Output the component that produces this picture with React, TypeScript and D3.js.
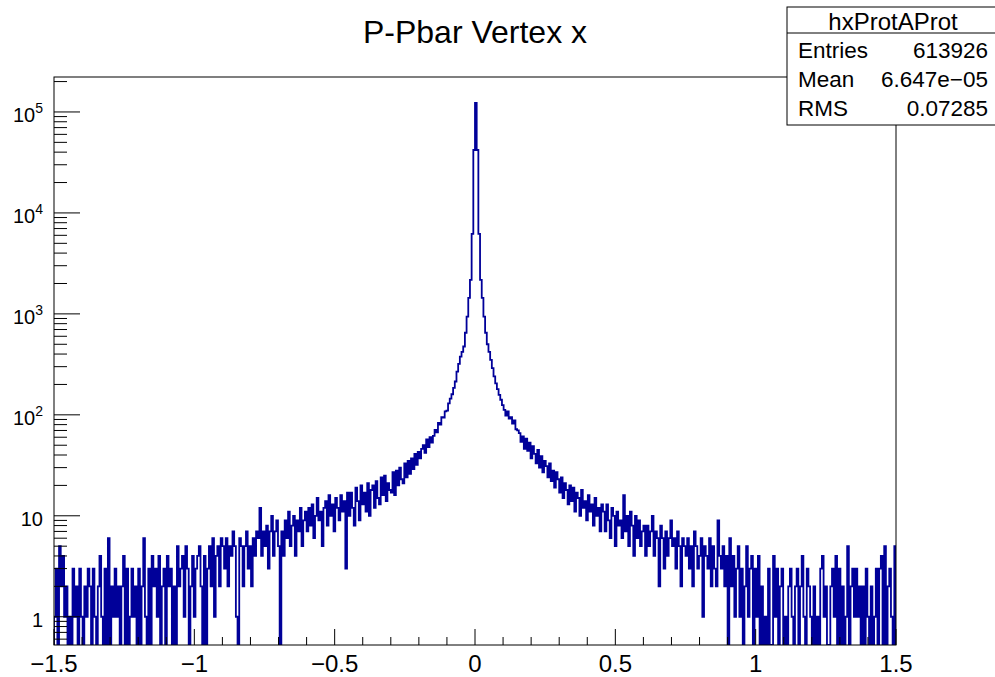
import React from "react";
import * as d3 from "d3";

const X_MIN = -1.5;
const X_MAX = 1.5;
const N_BINS = 500;

// bin contents, bins 0..249
const leftTail = [
  1, 3, 0, 5, 2, 4, 1, 2, 0, 1, 0, 3, 1, 2, 0, 3, 1, 0, 2, 1, 3, 2, 0, 3, 1,
  0, 2, 4, 1, 0, 3, 0, 6, 0, 2, 1, 3, 1, 2, 0, 2, 4, 0, 3, 0, 1, 3, 1, 2, 0,
  3, 0, 2, 6, 1, 0, 3, 0, 4, 2, 3, 1, 4, 0, 2, 3, 0, 4, 2, 3, 0, 2, 0, 5, 2,
  3, 4, 1, 5, 3, 0, 2, 4, 1, 3, 4, 5, 2, 0, 4, 0, 3, 5, 2, 6, 1, 4, 5, 2, 6,
  5, 3, 6, 2, 5, 4, 7, 5, 1, 0, 6, 5, 2, 5, 7, 3, 5, 2, 6, 4, 7, 6, 12, 4, 7,
  5, 8, 3, 7, 10, 4, 7, 9, 5, 0, 7, 4, 9, 6, 11, 5, 8, 10, 4, 9, 7, 12, 5, 9, 11,
  7, 12, 8, 13, 6, 10, 15, 9, 11, 5, 12, 14, 8, 16, 10, 13, 7, 15, 12, 9, 16, 11, 14, 3, 17,
  10, 17, 12, 8, 19, 14, 9, 20, 13, 17, 11, 21, 10, 18, 20, 12, 22, 15, 13, 24, 16, 25, 14, 21, 18,
  17, 27, 16, 28, 20, 30, 23, 21, 33, 24, 35, 26, 37, 29, 41, 32, 43, 37, 46, 50, 42, 57, 48, 60, 53,
  62, 71, 67, 83, 80, 95, 94, 108, 110, 130, 145, 160, 185, 214, 268, 320, 378, 420, 475, 650, 940, 1440, 2170, 6200, 42000,
];
// bin 250
const peakBin = [123000];
// bins 251..499
const rightTail = [
  42000, 6200, 2170, 1440, 940, 650, 500, 420, 350, 290, 240, 205, 180, 158, 141, 125, 112, 98, 108, 92, 95, 82, 88, 72, 70,
  66, 54, 61, 46, 58, 44, 53, 37, 49, 41, 33, 45, 30, 39, 27, 35, 31, 24, 33, 22, 28, 19, 27, 23, 17,
  24, 15, 21, 18, 13, 20, 14, 19, 11, 17, 15, 10, 18, 12, 14, 9, 16, 11, 13, 8, 15, 10, 12, 7, 13,
  11, 7, 13, 9, 6, 12, 10, 5, 11, 8, 9, 6, 16, 7, 10, 5, 11, 8, 4, 10, 6, 9, 5, 7, 8,
  4, 8, 5, 7, 10, 4, 7, 6, 2, 8, 6, 3, 7, 4, 6, 9, 5, 6, 3, 7, 5, 2, 6, 5, 4,
  6, 3, 5, 2, 7, 5, 3, 4, 6, 1, 5, 4, 3, 6, 2, 5, 3, 2, 9, 4, 3, 5, 2, 4, 0,
  6, 2, 4, 1, 3, 5, 1, 3, 0, 2, 5, 1, 3, 4, 0, 3, 1, 4, 0, 2, 0, 1, 0, 3, 0,
  0, 4, 1, 3, 0, 2, 3, 0, 1, 0, 2, 3, 1, 0, 2, 3, 0, 2, 4, 1, 0, 3, 2, 1, 0,
  2, 0, 1, 0, 3, 4, 1, 2, 0, 0, 2, 3, 1, 4, 0, 3, 0, 2, 0, 1, 5, 0, 2, 3, 1,
  3, 1, 2, 0, 2, 0, 3, 1, 0, 2, 0, 1, 3, 0, 3, 4, 0, 5, 0, 2, 3, 1, 0, 5,
];

const xTickValues = [-1.5, -1, -0.5, 0, 0.5, 1, 1.5];
const xTickLabels = ["\u22121.5", "\u22121", "\u22120.5", "0", "0.5", "1", "1.5"];
const yDecades = [0, 1, 2, 3, 4, 5];

const chartTitle = "P-Pbar Vertex x";
const statsTitle = "hxProtAProt";
const statsLabels = ["Entries", "Mean", "RMS"];
const statsValues = ["613926", "6.647e\u221205", "0.07285"];

const W = 995;
const H = 677;
const FL = 54, FR = 896, FT = 77, FB = 645;
const Y_MIN = 0.525, Y_MAX = 2.22e5;
const LINE = "#000099";
const FONT = "'Liberation Sans', Arial, Helvetica, sans-serif";

export default function App() {
  const counts = [...leftTail, ...peakBin, ...rightTail];
  const x = d3.scaleLinear().domain([X_MIN, X_MAX]).range([FL, FR]);
  const y = d3.scaleLog().domain([Y_MIN, Y_MAX]).range([FB, FT]);
  const edges = d3.range(N_BINS + 1).map((i) => X_MIN + (i * (X_MAX - X_MIN)) / N_BINS);
  const clamp = (v: number) => Math.max(v, Y_MIN);
  const pts: [number, number][] = [[edges[0], Y_MIN]];
  counts.forEach((c, i) => pts.push([edges[i], clamp(c)]));
  pts.push([edges[N_BINS], clamp(counts[counts.length - 1])]);
  pts.push([edges[N_BINS], Y_MIN]);
  const path = d3
    .line<[number, number]>()
    .x((d) => x(d[0]))
    .y((d) => y(d[1]))
    .curve(d3.curveStepAfter)(pts) as string;

  const xMinor = d3.range(-15, 16).map((k) => k / 10).filter((v) => Math.abs(v * 2 - Math.round(v * 2)) > 1e-6);
  const yMinor: number[] = [];
  for (let k = -1; k <= 5; k++) {
    for (let m = 2; m <= 9; m++) {
      const v = m * Math.pow(10, k);
      if (v >= Y_MIN && v <= Y_MAX) yMinor.push(v);
    }
  }

  const boxL = 787, boxR = 999, boxT = 7, boxMid = 33, boxB = 125;

  return (
    <svg width={W} height={H} style={{ position: "absolute", left: 0, top: 0, background: "#fff" }} fontFamily={FONT}>
      <rect x={0} y={0} width={W} height={H} fill="#fff" />
      <defs>
        <clipPath id="frameClip">
          <rect x={FL} y={FT} width={FR - FL} height={FB - FT} />
        </clipPath>
      </defs>
      <text x={475} y={43} fontSize={32} textAnchor="middle" fill="#000">{chartTitle}</text>

      <path d={path} fill="none" stroke={LINE} strokeWidth={1.8} clipPath="url(#frameClip)" />

      {/* frame */}
      <rect x={FL} y={FT} width={FR - FL} height={FB - FT} fill="none" stroke="#000" strokeWidth={1} />

      {/* x ticks */}
      {xTickValues.map((v, i) => (
        <g key={"xt" + i}>
          <line x1={x(v)} x2={x(v)} y1={FB} y2={FB - 16} stroke="#000" strokeWidth={1} />
          <text x={x(v)} y={672} fontSize={24} textAnchor="middle" fill="#000">{xTickLabels[i]}</text>
        </g>
      ))}
      {xMinor.map((v, i) => (
        <line key={"xm" + i} x1={x(v)} x2={x(v)} y1={FB} y2={FB - 8} stroke="#000" strokeWidth={1} />
      ))}

      {/* y ticks */}
      {yDecades.map((k) => {
        const yy = y(Math.pow(10, k));
        return (
          <g key={"yd" + k}>
            <line x1={FL} x2={FL + 26} y1={yy} y2={yy} stroke="#000" strokeWidth={1} />
            {k === 0 ? (
              <text x={43} y={yy + 10} fontSize={20} textAnchor="end" fill="#000">1</text>
            ) : k === 1 ? (
              <text x={43} y={yy + 10} fontSize={20} textAnchor="end" fill="#000">10</text>
            ) : (
              <text x={43} y={yy + 10} fontSize={20} textAnchor="end" fill="#000">
                10<tspan dy={-8.5} fontSize={14}>{k}</tspan>
              </text>
            )}
          </g>
        );
      })}
      {yMinor.map((v, i) => (
        <line key={"ym" + i} x1={FL} x2={FL + 13} y1={y(v)} y2={y(v)} stroke="#000" strokeWidth={1} />
      ))}

      {/* stats box */}
      <rect x={boxL} y={boxT} width={boxR - boxL} height={boxB - boxT} fill="#fff" stroke="#000" strokeWidth={1} />
      <line x1={boxL} x2={boxR} y1={boxMid} y2={boxMid} stroke="#000" strokeWidth={1} />
      <text x={(boxL + boxR) / 2} y={30} fontSize={24} textAnchor="middle" fill="#000">{statsTitle}</text>
      {statsLabels.map((s, i) => (
        <g key={"st" + i}>
          <text x={798} y={58 + i * 29} fontSize={22.5} fill="#000">{s}</text>
          <text x={988} y={58 + i * 29} fontSize={22.5} textAnchor="end" fill="#000">{statsValues[i]}</text>
        </g>
      ))}
    </svg>
  );
}
